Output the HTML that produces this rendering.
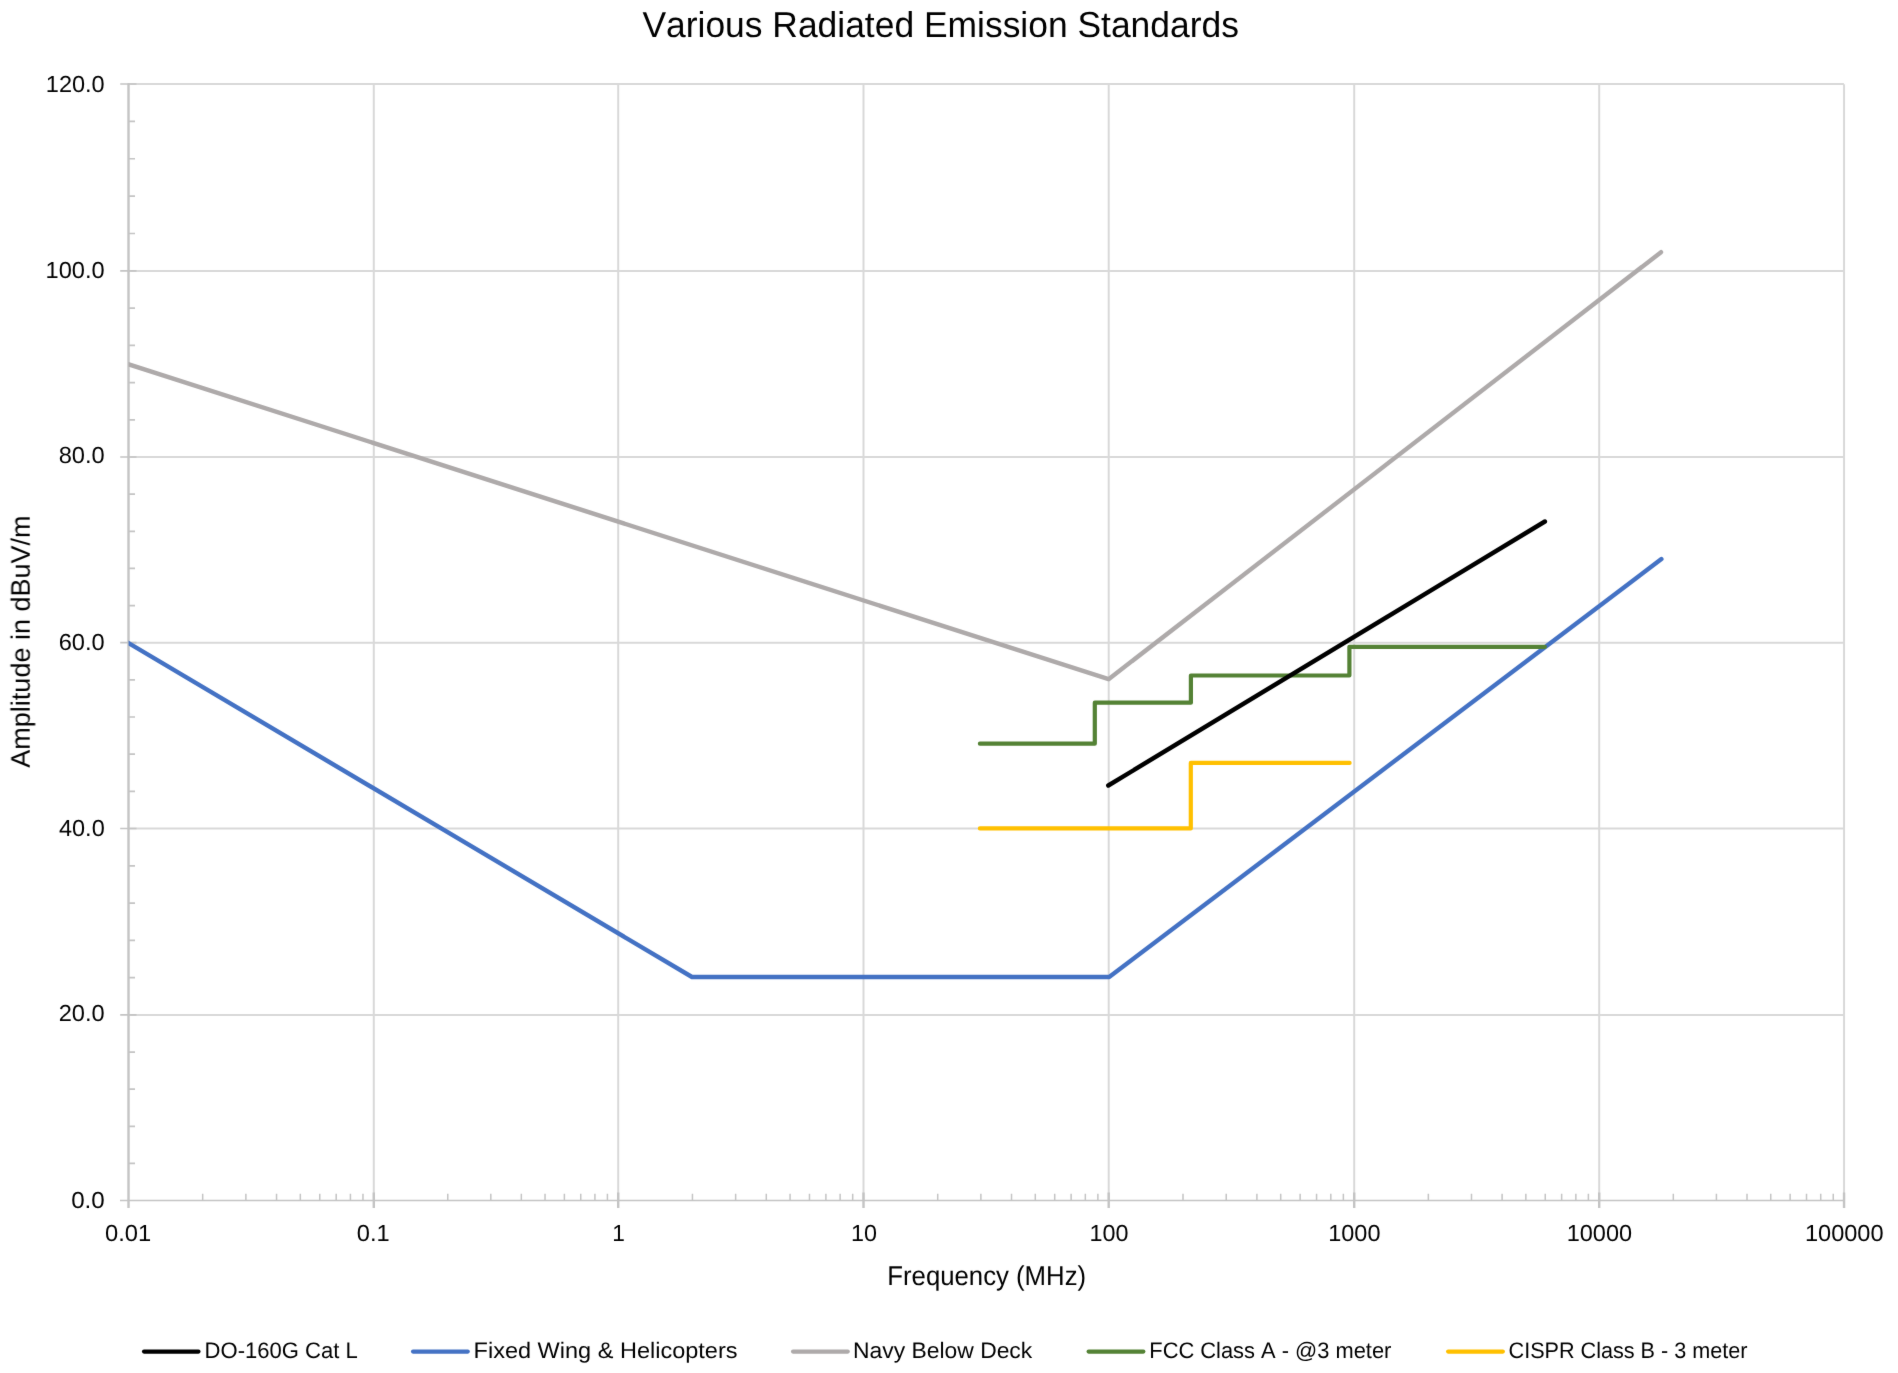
<!DOCTYPE html>
<html><head><meta charset="utf-8"><title>Various Radiated Emission Standards</title>
<style>html,body{margin:0;padding:0;background:#fff;}body{width:1898px;height:1373px;overflow:hidden;}svg{display:block;-webkit-font-smoothing:antialiased;font-family:"Liberation Sans",sans-serif;}</style></head>
<body>
<svg width="1898" height="1373" viewBox="0 0 1898 1373">
<defs><filter id="bl" x="0" y="0" width="1898" height="1373" filterUnits="userSpaceOnUse" color-interpolation-filters="sRGB"><feConvolveMatrix order="3" kernelMatrix="0.00524 0.06192 0.00524 0.06192 0.73137 0.06192 0.00524 0.06192 0.00524" edgeMode="duplicate" preserveAlpha="false"/></filter></defs>
<rect x="0" y="0" width="1898" height="1373" fill="#FFFFFF"/>
<g filter="url(#bl)">
<path d="M128.30 1014.90H1844.00 M128.30 828.50H1844.00 M128.30 642.70H1844.00 M128.30 457.00H1844.00 M128.30 270.90H1844.00 M128.30 84.00H1844.00 M373.80 84.20V1200.60 M618.20 84.20V1200.60 M863.50 84.20V1200.60 M1108.70 84.20V1200.60 M1354.20 84.20V1200.60 M1599.20 84.20V1200.60 M1844.05 84.20V1200.60" stroke="#D9D9D9" stroke-width="2" fill="none"/>
<path d="M120.20 1014.90H136.50 M120.20 828.50H136.50 M120.20 642.70H136.50 M120.20 457.00H136.50 M120.20 270.90H136.50 M120.20 84.00H136.50 M128.50 1163.46H135.00 M128.50 1126.32H135.00 M128.50 1089.18H135.00 M128.50 1052.04H135.00 M128.50 977.62H135.00 M128.50 940.34H135.00 M128.50 903.06H135.00 M128.50 865.78H135.00 M128.50 791.34H135.00 M128.50 754.18H135.00 M128.50 717.02H135.00 M128.50 679.86H135.00 M128.50 605.56H135.00 M128.50 568.42H135.00 M128.50 531.28H135.00 M128.50 494.14H135.00 M128.50 419.78H135.00 M128.50 382.56H135.00 M128.50 345.34H135.00 M128.50 308.12H135.00 M128.50 233.52H135.00 M128.50 196.14H135.00 M128.50 158.76H135.00 M128.50 121.38H135.00" stroke="#C4C4C4" stroke-width="1.7" fill="none"/>
<path d="M120.00 1200.60H1844.05 M202.67 1193.80V1200.60 M245.89 1193.80V1200.60 M276.55 1193.80V1200.60 M300.33 1193.80V1200.60 M319.76 1193.80V1200.60 M336.19 1193.80V1200.60 M350.42 1193.80V1200.60 M362.97 1193.80V1200.60 M447.77 1193.80V1200.60 M490.81 1193.80V1200.60 M521.34 1193.80V1200.60 M545.03 1193.80V1200.60 M564.38 1193.80V1200.60 M580.74 1193.80V1200.60 M594.92 1193.80V1200.60 M607.42 1193.80V1200.60 M692.44 1193.80V1200.60 M735.64 1193.80V1200.60 M766.29 1193.80V1200.60 M790.06 1193.80V1200.60 M809.48 1193.80V1200.60 M825.90 1193.80V1200.60 M840.13 1193.80V1200.60 M852.68 1193.80V1200.60 M937.71 1193.80V1200.60 M980.89 1193.80V1200.60 M1011.53 1193.80V1200.60 M1035.29 1193.80V1200.60 M1054.70 1193.80V1200.60 M1071.12 1193.80V1200.60 M1085.34 1193.80V1200.60 M1097.88 1193.80V1200.60 M1183.00 1193.80V1200.60 M1226.23 1193.80V1200.60 M1256.91 1193.80V1200.60 M1280.70 1193.80V1200.60 M1300.14 1193.80V1200.60 M1316.57 1193.80V1200.60 M1330.81 1193.80V1200.60 M1343.37 1193.80V1200.60 M1428.35 1193.80V1200.60 M1471.49 1193.80V1200.60 M1502.10 1193.80V1200.60 M1525.85 1193.80V1200.60 M1545.25 1193.80V1200.60 M1561.65 1193.80V1200.60 M1575.86 1193.80V1200.60 M1588.39 1193.80V1200.60 M1673.31 1193.80V1200.60 M1716.42 1193.80V1200.60 M1747.01 1193.80V1200.60 M1770.74 1193.80V1200.60 M1790.13 1193.80V1200.60 M1806.52 1193.80V1200.60 M1820.72 1193.80V1200.60 M1833.25 1193.80V1200.60" stroke="#C4C4C4" stroke-width="1.5" fill="none"/>
<path d="M128.50 83.20V1208.00 M373.80 1192.60V1208.00 M618.20 1192.60V1208.00 M863.50 1192.60V1208.00 M1108.70 1192.60V1208.00 M1354.20 1192.60V1208.00 M1599.20 1192.60V1208.00 M1844.05 1192.60V1208.00" stroke="#C4C4C4" stroke-width="2.4" fill="none"/>
<defs><clipPath id="pa"><rect x="128.60" y="74.20" width="1725.50" height="1126.40"/></clipPath></defs>
<path d="M126.50 641.81 L692.00 977.00 L1109.20 977.00 L1661.40 559.10" stroke="#4472C4" stroke-width="4.4" fill="none" stroke-linejoin="round" stroke-linecap="round" clip-path="url(#pa)"/>
<path d="M126.50 363.66 L1108.60 679.20 L1661.00 252.20" stroke="#AEAAAA" stroke-width="4.4" fill="none" stroke-linejoin="round" stroke-linecap="round" clip-path="url(#pa)"/>
<path d="M979.90 828.40 L1190.80 828.40 L1190.80 762.90 L1349.60 762.90" stroke="#FFC000" stroke-width="4.2" fill="none" stroke-linejoin="round" stroke-linecap="round" clip-path="url(#pa)"/>
<path d="M979.90 743.70 L1094.80 743.70 L1094.80 702.70 L1190.90 702.70 L1190.90 675.50 L1349.40 675.50 L1349.40 646.80 L1544.80 646.80" stroke="#548235" stroke-width="4.2" fill="none" stroke-linejoin="round" stroke-linecap="round" clip-path="url(#pa)"/>
<path d="M1108.30 785.50 L1544.90 521.50" stroke="#000000" stroke-width="4.4" fill="none" stroke-linejoin="round" stroke-linecap="round" clip-path="url(#pa)"/>
<path d="M144.0 1351.6H198.5" stroke="#000000" stroke-width="4.1" stroke-linecap="round"/>
<path d="M413.0 1351.6H467.8" stroke="#4472C4" stroke-width="4.1" stroke-linecap="round"/>
<path d="M793.0 1351.6H847.8" stroke="#AEAAAA" stroke-width="4.1" stroke-linecap="round"/>
<path d="M1088.6 1351.6H1143.4" stroke="#548235" stroke-width="4.1" stroke-linecap="round"/>
<path d="M1448.1 1351.6H1502.9" stroke="#FFC000" stroke-width="4.1" stroke-linecap="round"/>
<g opacity="0.999" fill="#000000" font-family="Liberation Sans, sans-serif" style="font-kerning:none;text-rendering:geometricPrecision">
<text x="642.44" y="37.40" font-size="36.05" textLength="596.44" lengthAdjust="spacingAndGlyphs">Various Radiated Emission Standards</text>
<text x="71.16" y="1207.70" font-size="23.26" textLength="33.59" lengthAdjust="spacingAndGlyphs">0.0</text>
<text x="58.71" y="1021.30" font-size="23.26" textLength="46.01" lengthAdjust="spacingAndGlyphs">20.0</text>
<text x="58.96" y="835.50" font-size="23.26" textLength="45.76" lengthAdjust="spacingAndGlyphs">40.0</text>
<text x="58.70" y="649.50" font-size="23.26" textLength="46.02" lengthAdjust="spacingAndGlyphs">60.0</text>
<text x="58.67" y="463.30" font-size="23.26" textLength="46.05" lengthAdjust="spacingAndGlyphs">80.0</text>
<text x="45.60" y="277.80" font-size="23.26" textLength="59.12" lengthAdjust="spacingAndGlyphs">100.0</text>
<text x="45.81" y="91.60" font-size="23.26" textLength="58.91" lengthAdjust="spacingAndGlyphs">120.0</text>
<text x="104.97" y="1240.90" font-size="23.26" textLength="46.19" lengthAdjust="spacingAndGlyphs">0.01</text>
<text x="356.78" y="1240.90" font-size="23.26" textLength="32.88" lengthAdjust="spacingAndGlyphs">0.1</text>
<text x="612.17" y="1240.90" font-size="23.26" textLength="12.64" lengthAdjust="spacingAndGlyphs">1</text>
<text x="851.02" y="1240.90" font-size="23.26" textLength="25.99" lengthAdjust="spacingAndGlyphs">10</text>
<text x="1089.62" y="1240.90" font-size="23.26" textLength="38.99" lengthAdjust="spacingAndGlyphs">100</text>
<text x="1328.21" y="1240.90" font-size="23.26" textLength="52.31" lengthAdjust="spacingAndGlyphs">1000</text>
<text x="1566.71" y="1240.90" font-size="23.26" textLength="65.41" lengthAdjust="spacingAndGlyphs">10000</text>
<text x="1804.90" y="1240.90" font-size="23.26" textLength="78.72" lengthAdjust="spacingAndGlyphs">100000</text>
<text x="887.29" y="1284.50" font-size="27.18" textLength="198.81" lengthAdjust="spacingAndGlyphs">Frequency (MHz)</text>
<g transform="translate(29.7 0) rotate(-90)"><text x="-767.65" y="0.00" font-size="26.74" textLength="252.13" lengthAdjust="spacingAndGlyphs">Amplitude in dBuV/m</text></g>
<text x="204.59" y="1358.10" font-size="22.38" textLength="153.14" lengthAdjust="spacingAndGlyphs">DO-160G Cat L</text>
<text x="473.57" y="1358.10" font-size="22.38" textLength="263.98" lengthAdjust="spacingAndGlyphs">Fixed Wing &amp; Helicopters</text>
<text x="853.02" y="1358.10" font-size="22.38" textLength="179.24" lengthAdjust="spacingAndGlyphs">Navy Below Deck</text>
<text x="1149.31" y="1358.10" font-size="22.38" textLength="242.06" lengthAdjust="spacingAndGlyphs">FCC Class A - @3 meter</text>
<text x="1508.60" y="1358.10" font-size="22.38" textLength="238.86" lengthAdjust="spacingAndGlyphs">CISPR Class B - 3 meter</text>
</g>
</g>
</svg>
</body></html>
